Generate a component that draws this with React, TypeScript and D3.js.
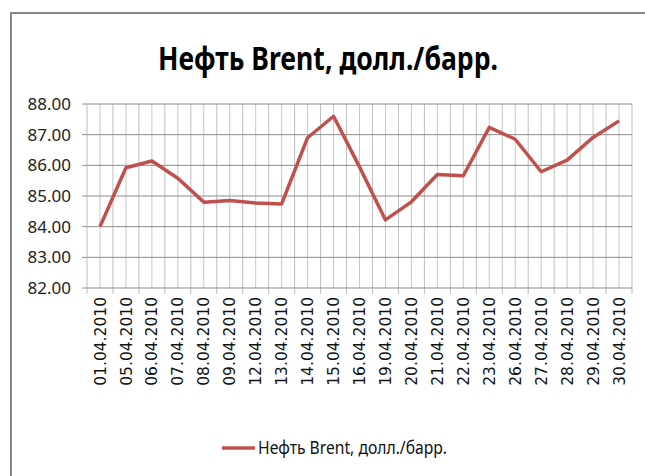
import React from "react";
import * as d3 from "d3";

const dates = [
  "01.04.2010", "05.04.2010", "06.04.2010", "07.04.2010", "08.04.2010",
  "09.04.2010", "12.04.2010", "13.04.2010", "14.04.2010", "15.04.2010",
  "16.04.2010", "19.04.2010", "20.04.2010", "21.04.2010", "22.04.2010",
  "23.04.2010", "26.04.2010", "27.04.2010", "28.04.2010", "29.04.2010",
  "30.04.2010",
];
const brent = [
  84.0, 85.92, 86.14, 85.58, 84.8, 84.85, 84.77, 84.74, 86.9, 87.6,
  85.95, 84.22, 84.81, 85.7, 85.66, 87.24, 86.85, 85.79, 86.17, 86.91,
  87.45,
];
const yTicks = [82, 83, 84, 85, 86, 87, 88];
const title = "Нефть Brent, долл./барр.";
const seriesName = "Нефть Brent, долл./барр.";

const W = 645;
const H = 476;
const plot = { left: 87, right: 632, top: 104, bottom: 288 };
const red = "#c0504d";

export default function App() {
  const x = d3.scaleBand().domain(dates).range([plot.left, plot.right]);
  const cx = (d: string) => (x(d) as number) + x.bandwidth() / 2;
  const y = d3.scaleLinear().domain([82, 88]).range([plot.bottom, plot.top]);

  const path = d3
    .line<number>()
    .x((_, i) => cx(dates[i]))
    .y((v) => y(v))(brent);

  const bounds = dates.map((d) => x(d) as number).concat([plot.right]);

  return (
    <svg
      width={W}
      height={H}
      style={{ position: "absolute", left: 0, top: 0, background: "#fff" }}
    >
      <rect x={11} y={13} width={W} height={H} fill="#fff" stroke="#878787" strokeWidth={2} />
      <text
        x={158}
        y={70}
        fontFamily="Noto Sans"
        fontWeight="bold"
        fontSize={33}
        textLength={340}
        lengthAdjust="spacingAndGlyphs"
      >
        {title}
      </text>

      {/* vertical grid: category centers and boundaries */}
      {dates.map((d) => (
        <line key={"c" + d} x1={cx(d)} x2={cx(d)} y1={plot.top} y2={plot.bottom} stroke="#c8c8c8" />
      ))}
      {bounds.map((b, i) => (
        <line key={"b" + i} x1={b} x2={b} y1={plot.top} y2={plot.bottom + 6} stroke="#bdbdbd" />
      ))}
      {/* horizontal grid */}
      {yTicks.map((t) => (
        <g key={t}>
          <line x1={plot.left - 5} x2={plot.right} y1={y(t)} y2={y(t)} stroke="#8c8c8c" />
          <text
            x={71}
            y={y(t)}
            dy="0.36em"
            textAnchor="end"
            fontFamily="Noto Sans"
            fontSize={17}
            fill="#222"
          >
            {t.toFixed(2)}
          </text>
        </g>
      ))}

      <path d={path || ""} fill="none" stroke={red} strokeWidth={3.5} strokeLinejoin="round" />

      {dates.map((d) => (
        <text
          key={"l" + d}
          transform={`translate(${cx(d)},${297}) rotate(-90)`}
          dy="0.36em"
          textAnchor="end"
          fontFamily="DejaVu Sans"
          fontSize={15.5}
          fill="#111"
        >
          {d}
        </text>
      ))}

      <line x1={222} x2={255} y1={448} y2={448} stroke={red} strokeWidth={3.5} />
      <text
        x={258}
        y={454}
        fontFamily="Noto Sans"
        fontSize={18}
        fill="#111"
        textLength={189}
        lengthAdjust="spacingAndGlyphs"
      >
        {seriesName}
      </text>
    </svg>
  );
}
